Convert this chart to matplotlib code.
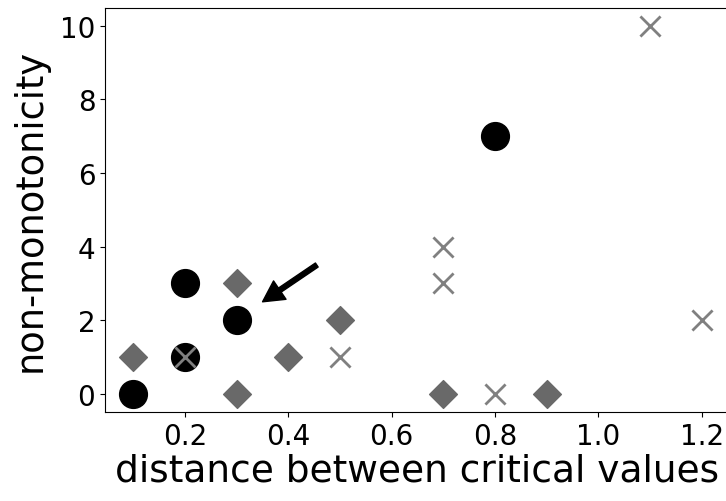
import matplotlib
matplotlib.use('Agg')
import matplotlib.pyplot as plt

# data
circle_x = [0.1, 0.2, 0.2, 0.3, 0.8]
circle_y = [0, 3, 1, 2, 7]
diamond_x = [0.1, 0.3, 0.3, 0.4, 0.5, 0.7, 0.9]
diamond_y = [1, 3, 0, 1, 2, 0, 0]
cross_x = [0.2, 0.5, 0.7, 0.7, 0.8, 1.1, 1.2]
cross_y = [1, 1, 4, 3, 0, 10, 2]

fig = plt.figure(figsize=(7.26, 5.02), dpi=100)
# axes run a bit past the right edge of the image, like the original crop
ax = fig.add_axes([0.1446, 0.177, 0.861, 0.806])

ax.scatter(circle_x, circle_y, marker='o', s=400, color='black', zorder=3)
ax.scatter(diamond_x, diamond_y, marker='D', s=200, color='dimgray', zorder=3)
ax.scatter(cross_x, cross_y, marker='x', s=210, color='gray', linewidths=2, zorder=4)

ax.annotate('', xy=(0.35, 2.5), xytext=(0.455, 3.5),
            arrowprops=dict(facecolor='black', edgecolor='black', width=3.5,
                            headwidth=16, headlength=15, shrink=0))

ax.set_xlim(0.045, 1.255)
ax.set_ylim(-0.5, 10.5)
ax.set_xticks([0.2, 0.4, 0.6, 0.8, 1.0, 1.2])
ax.set_yticks([0, 2, 4, 6, 8, 10])
ax.tick_params(labelsize=20)
ax.set_xlabel('distance between critical values', fontsize=27, labelpad=2)
ax.set_ylabel('non-monotonicity', fontsize=26.5, labelpad=8)

fig.savefig('out.png', dpi=100)
